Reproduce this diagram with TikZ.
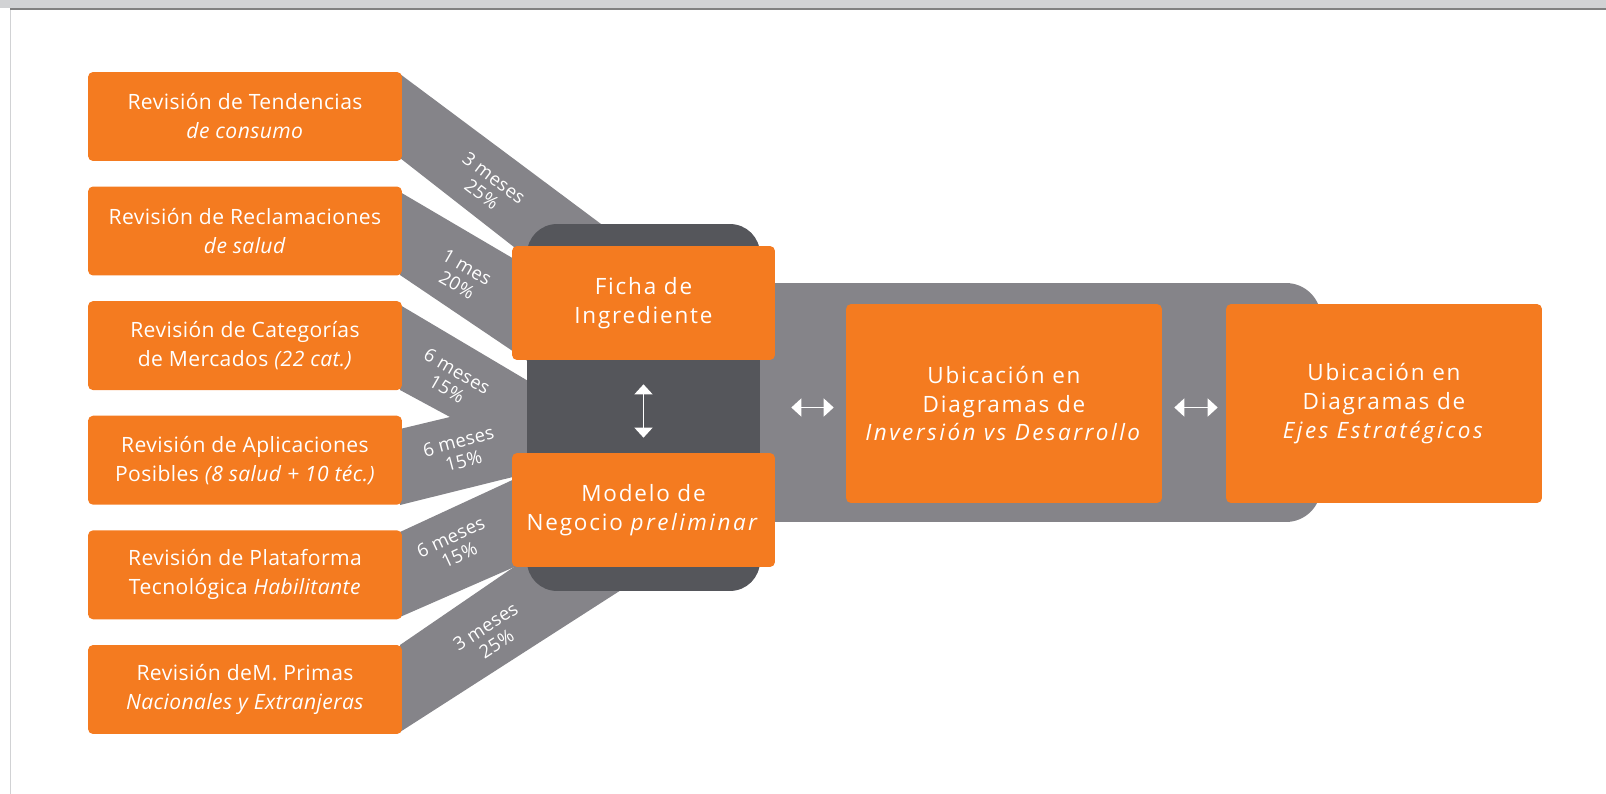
\documentclass[tikz,border=0pt]{standalone}
\usepackage{fontspec}
\setmainfont{Open Sans}[LetterSpace=2]
\newfontfamily\spaced{Open Sans}[LetterSpace=8, ItalicFeatures={LetterSpace=11}]
\usetikzlibrary{arrows.meta,positioning}
\definecolor{naranja}{HTML}{F47B20}
\definecolor{grisclaro}{HTML}{858489}
\definecolor{grisoscuro}{HTML}{55565B}
\definecolor{barra}{HTML}{D1D2D4}
\definecolor{linea}{HTML}{808080}

\begin{document}
\begin{tikzpicture}[
  x=0.02cm, y=-0.02cm,
  caja/.style={fill=naranja, rounded corners=0.1cm, text=white,
    align=center, inner sep=0pt},
  revision/.style={caja, minimum width=6.28cm, minimum height=1.78cm,
    font=\fontsize{12}{16.5}\selectfont},
  etapa/.style={caja, minimum width=5.26cm, minimum height=2.28cm,
    font=\spaced\fontsize{12.8}{16.3}\selectfont},
  ubicacion/.style={caja, minimum width=6.32cm, minimum height=3.98cm,
    font=\spaced\fontsize{12.8}{16.5}\selectfont},
  banda/.style={fill=grisclaro},
  plazo/.style={text=white, align=center, inner sep=0pt,
    font=\fontsize{10.5}{11.5}\selectfont},
  dbl/.style={{Triangle[width=0.36cm,length=0.2cm]}-{Triangle[width=0.36cm,length=0.2cm]},
    draw=white, line width=0.8pt}
]
\useasboundingbox (0,0) rectangle (1606,794);

% Page header
\fill[barra] (0,0) rectangle (1606,8);
\fill[linea] (10,8) rectangle (1606,10.5);
\draw[barra, line width=0.5pt] (10,10) -- (10,794);

% Bands from the reviews
\fill[banda] (400,74) -- (660,268) -- (560,283) -- (400,158) -- cycle;
\fill[banda] (400,192) -- (560,286) -- (560,383) -- (400,275) -- cycle;
\fill[banda] (400,305) -- (545,391) -- (545,469) -- (400,505)
  -- (400,429) -- (450,417) -- (400,390) -- cycle;
\fill[banda] (400,532) -- (560,458) -- (560,547) -- (400,617) -- cycle;
\fill[banda] (400,645) -- (660,467) -- (660,565) -- (400,732) -- cycle;

% Back plates
\node[fill=grisclaro, rounded corners=0.7cm, minimum width=12.42cm,
  minimum height=4.78cm] (franja) at (1010.5,402.5) {};
\node[fill=grisoscuro, rounded corners=0.6cm, minimum width=4.66cm,
  minimum height=7.34cm] (nucleo) at (643.5,407.5) {};

% Reviews
\node[revision] (r1) at (245,116.5) {Revisión de Tendencias\\\textit{de consumo}};
\node[revision] (r2) at (245,231) {Revisión de Reclamaciones\\\textit{de salud}};
\node[revision] (r3) at (245,345.6) {Revisión de Categorías\\de Mercados \textit{(22 cat.)}};
\node[revision] (r4) at (245,460.2) {Revisión de Aplicaciones\\Posibles \textit{(8 salud + 10 téc.)}};
\node[revision] (r5) at (245,574.8) {Revisión de Plataforma\\Tecnológica \textit{Habilitante}};
\node[revision] (r6) at (245,689.5) {Revisión deM. Primas\\\textit{Nacionales y Extranjeras}};

% Times and weights
\node[plazo, rotate=-37] (p1) at (488,186) {3 meses\\25\%};
\node[plazo, rotate=-30] (p2) at (462,276) {1 mes\\20\%};
\node[plazo, rotate=-30] (p3) at (452,380) {6 meses\\15\%};
\node[plazo, rotate=15] (p4) at (461,451) {6 meses\\15\%};
\node[plazo, rotate=25] (p5) at (455,546) {6 meses\\15\%};
\node[plazo, rotate=33] (p6) at (491,635) {3 meses\\25\%};

% Core
\node[etapa] (ficha) at (643.5,303) {Ficha de\\Ingrediente};
\node[etapa] (modelo) at (643.5,510) {Modelo de\\Negocio \textit{preliminar}};
\node[ubicacion] (inv) at (1004,403.5)
  {Ubicación en\\Diagramas de\\\textit{Inversión vs Desarrollo}};
\node[ubicacion] (ejes) at (1384,403.5)
  {Ubicación en\\Diagramas de\\\textit{Ejes Estratégicos}};

% Two-way links
\draw[dbl, shorten <=0.48cm, shorten >=0.3cm] (ficha) -- (modelo);
\draw[dbl, shorten <=0.62cm, shorten >=0.24cm] (nucleo.east) -- (nucleo.east -| inv.west);
\draw[dbl, shorten <=0.24cm, shorten >=0.16cm] (inv.east |- nucleo.east) -- (ejes.west |- nucleo.east);

\end{tikzpicture}
\end{document}
